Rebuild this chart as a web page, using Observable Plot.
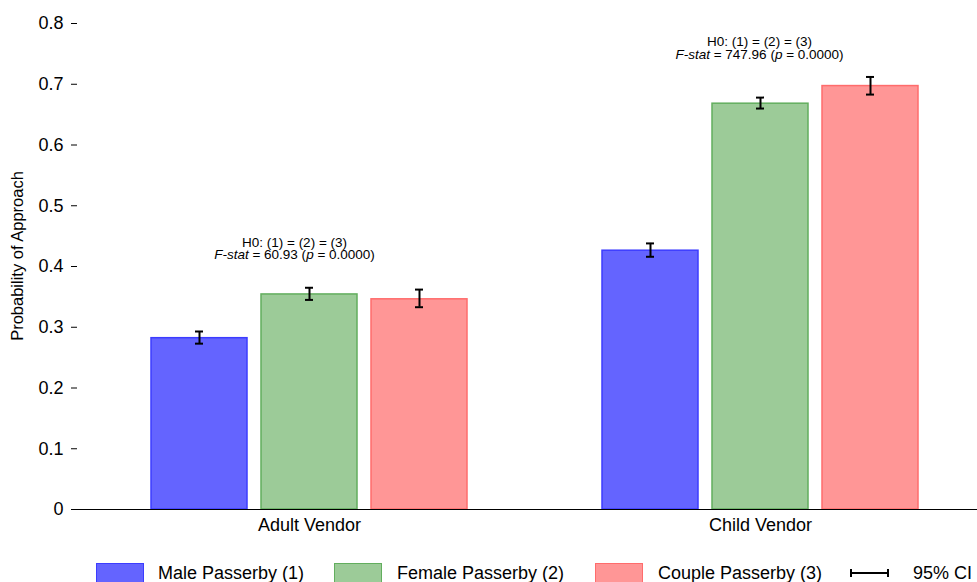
<!DOCTYPE html>
<html>
<head>
<meta charset="utf-8">
<script src="https://cdn.jsdelivr.net/npm/d3@7"></script>
<script src="https://cdn.jsdelivr.net/npm/@observablehq/plot@0.6"></script>
<style>
  html, body { margin: 0; padding: 0; background: #fff; }
  #wrap { position: relative; width: 977px; height: 582px; overflow: hidden; font-family: "Liberation Sans", Arial, sans-serif; }
  .leg { position: absolute; top: 563px; font-size: 18px; color: #000; line-height: 20px; }
  .sw { position: absolute; top: 563px; width: 46px; height: 20px; }
</style>
</head>
<body>
<div id="wrap"></div>
<script>
const vendors = ["Adult Vendor", "Child Vendor"];
const passerby = ["Male Passerby (1)", "Female Passerby (2)", "Couple Passerby (3)"];
const adultMean = [0.282, 0.354, 0.346];
const adultLo   = [0.273, 0.345, 0.333];
const adultHi   = [0.293, 0.365, 0.362];
const childMean = [0.426, 0.668, 0.697];
const childLo   = [0.416, 0.660, 0.683];
const childHi   = [0.438, 0.678, 0.712];
const fills   = ["#6464ff", "#9ccb98", "#ff9696"];
const strokes = ["#3c3cff", "#62ae5e", "#ff6c6c"];
const yTicks = [0, 0.1, 0.2, 0.3, 0.4, 0.5, 0.6, 0.7, 0.8];
const yLabel = "Probability of Approach";
const annVendor = ["Adult Vendor", "Child Vendor"];
const annY = [0.44, 0.77];
const annLine1 = ["H0: (1) = (2) = (3)", "H0: (1) = (2) = (3)"];
const annFstat = ["60.93", "747.96"];
const annP = ["0.0000", "0.0000"];
const annShift = [-15, -1];

const data = [];
passerby.forEach((p, i) => {
  data.push({vendor: vendors[0], passerby: p, mean: adultMean[i], lo: adultLo[i], hi: adultHi[i]});
  data.push({vendor: vendors[1], passerby: p, mean: childMean[i], lo: childLo[i], hi: childHi[i]});
});
const ann = annVendor.map((v, i) => ({vendor: v, y: annY[i], l1: annLine1[i], f: annFstat[i], p: annP[i]}));

const annMarks = ann.flatMap((a, i) => [
  Plot.text([a], {fx: "vendor", y: "y", text: "l1", fontSize: 13.5, fill: "#000", lineAnchor: "middle", frameAnchor: "middle", dx: annShift[i]}),
  Plot.text([a], {fx: "vendor", y: "y", text: d => `F-stat = ${d.f} (p = ${d.p})`, fontSize: 13.5, fill: "#000", lineAnchor: "middle", frameAnchor: "middle", dy: 12.5, dx: annShift[i], className: "fstat" + i})
]);

const chart = Plot.plot({
  width: 977,
  height: 545,
  marginLeft: 92,
  marginRight: 0,
  marginTop: 23,
  marginBottom: 36,
  style: {fontFamily: "'Liberation Sans', Arial, sans-serif", fontSize: "18px", color: "#000", background: "#fff"},
  fx: {domain: vendors, paddingInner: 0.0377, paddingOuter: 0, label: null, axis: null},
  x: {domain: passerby, paddingInner: 0.127, paddingOuter: 0.527, axis: null},
  y: {domain: [0, 0.8], axis: null},
  marks: [
    Plot.axisY({ticks: yTicks, tickFormat: d => d === 0 ? "0" : d.toFixed(1), tickSize: 6, tickPadding: 8, dx: -15,
      label: null, fontSize: 18}),
    Plot.axisFx({anchor: "bottom", label: null, tickSize: 0, tickPadding: 9, fontSize: 18}),
    ...passerby.map((p, i) => Plot.barY(data.filter(d => d.passerby === p), {
      fx: "vendor", x: "passerby", y: "mean", fill: fills[i], stroke: strokes[i], strokeWidth: 1.5
    })),
    Plot.ruleY([0], {insetLeft: -17, stroke: "#000", strokeWidth: 1.2}),
    Plot.ruleX(data, {fx: "vendor", x: "passerby", y1: "lo", y2: "hi", stroke: "#000", strokeWidth: 2}),
    Plot.tickY(data, {fx: "vendor", x: "passerby", y: "lo", stroke: "#000", strokeWidth: 2, insetLeft: 44, insetRight: 44}),
    Plot.tickY(data, {fx: "vendor", x: "passerby", y: "hi", stroke: "#000", strokeWidth: 2, insetLeft: 44, insetRight: 44}),
    ...annMarks
  ]
});

// italicise F-stat and p
ann.forEach((a, i) => {
  d3.select(chart).selectAll("g.fstat" + i + " text").each(function() {
    const t = d3.select(this);
    t.text(null);
    t.append("tspan").attr("font-style", "italic").text("F-stat");
    t.append("tspan").text(` = ${a.f} (`);
    t.append("tspan").attr("font-style", "italic").text("p");
    t.append("tspan").text(` = ${a.p})`);
  });
});

// y-axis title
d3.select(chart).append("text")
  .attr("transform", "translate(23,256) rotate(-90)")
  .attr("text-anchor", "middle")
  .attr("font-size", 16.5)
  .attr("fill", "#000")
  .text(yLabel);

const wrap = document.getElementById("wrap");
wrap.appendChild(chart);

// legend
const legSwLeft = [96, 334, 595];
const legTxtLeft = [158, 397, 658];
passerby.forEach((p, i) => {
  const sw = document.createElement("div");
  sw.className = "sw";
  sw.style.left = legSwLeft[i] + "px";
  sw.style.background = fills[i];
  sw.style.border = "1px solid " + strokes[i];
  wrap.appendChild(sw);
  const tx = document.createElement("div");
  tx.className = "leg";
  tx.style.left = legTxtLeft[i] + "px";
  tx.textContent = p;
  wrap.appendChild(tx);
});
const ci = document.createElementNS("http://www.w3.org/2000/svg", "svg");
ci.setAttribute("width", 40); ci.setAttribute("height", 12);
ci.style.position = "absolute"; ci.style.left = "850px"; ci.style.top = "567px";
ci.innerHTML = '<line x1="1" y1="6" x2="38" y2="6" stroke="#000" stroke-width="2"/><line x1="1" y1="2" x2="1" y2="10" stroke="#000" stroke-width="2"/><line x1="38" y1="2" x2="38" y2="10" stroke="#000" stroke-width="2"/>';
wrap.appendChild(ci);
const citx = document.createElement("div");
citx.className = "leg"; citx.style.left = "913px"; citx.textContent = "95% CI";
wrap.appendChild(citx);
</script>
</body>
</html>
